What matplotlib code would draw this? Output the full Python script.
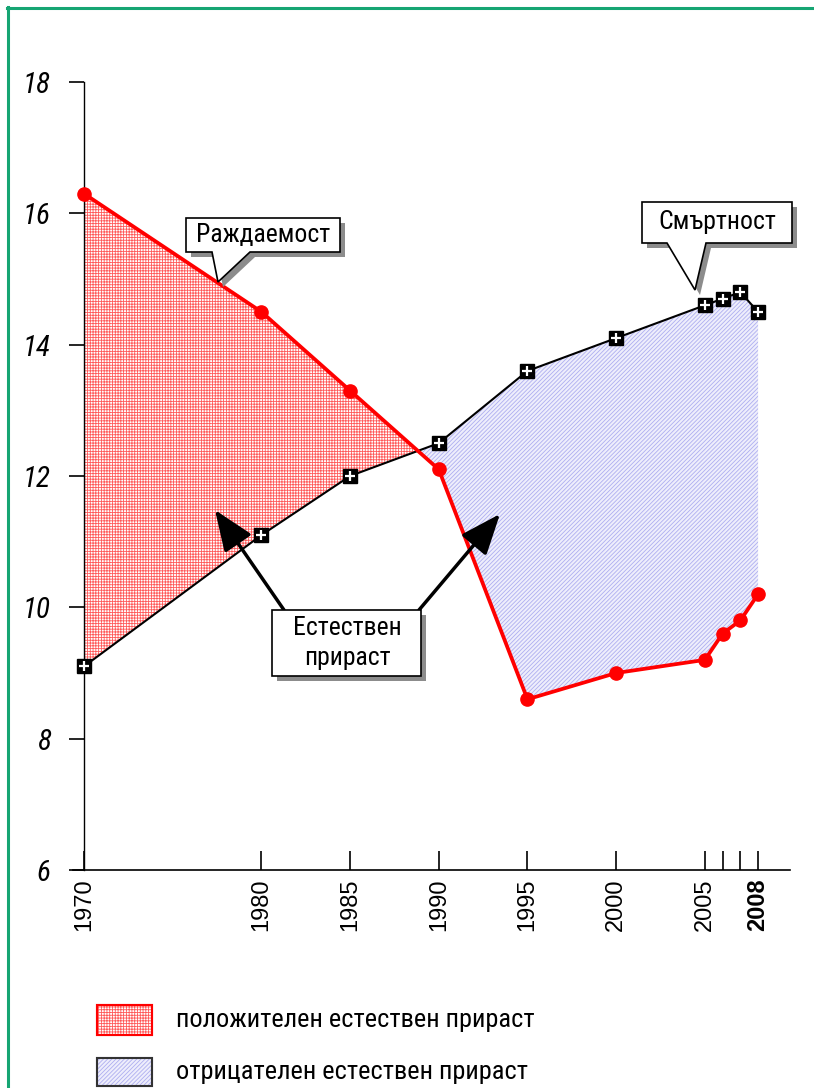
import matplotlib
matplotlib.use("Agg")
import matplotlib.pyplot as plt
from matplotlib import font_manager
from matplotlib.patches import Polygon, Rectangle
from matplotlib.lines import Line2D

# birth and death rate per 1000 people
years = [1970, 1980, 1985, 1990, 1995, 2000, 2005, 2006, 2007, 2008]
birth = [16.3, 14.5, 13.3, 12.1, 8.6, 9.0, 9.2, 9.6, 9.8, 10.2]
death = [9.1, 11.1, 12.0, 12.5, 13.6, 14.1, 14.6, 14.7, 14.8, 14.5]
tick_labels = ["1970", "1980", "1985", "1990", "1995", "2000", "2005", "", "", "2008"]
y_ticks = [6, 8, 10, 12, 14, 16, 18]

label_birth = "Раждаемост"
label_death = "Смъртност"
label_growth = "Естествен\nприраст"
legend_pos = "положителен естествен прираст"
legend_neg = "отрицателен естествен прираст"

names = {f.name for f in font_manager.fontManager.ttflist}
narrow = "DejaVu Sans"
for cand in ["Roboto Condensed", "Liberation Sans Narrow", "Open Sans Condensed"]:
    if cand in names:
        narrow = cand
        break
regular = "Liberation Sans" if "Liberation Sans" in names else "DejaVu Sans"

plt.rcParams["hatch.linewidth"] = 0.6

W, H = 814, 1088
fig = plt.figure(figsize=(W / 100, H / 100), dpi=100)


def fx(px):
    return px / W


def fy(py):
    return 1 - py / H


ax = fig.add_axes([fx(84), fy(870), fx(790) - fx(84), fy(82) - fy(870)])
ax.set_xlim(1970, 2009.8)
ax.set_ylim(6, 18)

ax.fill_between(years, birth, death, where=[b >= d for b, d in zip(birth, death)],
                interpolate=True, facecolor="white", edgecolor="#ff5a5a",
                hatch="++++++", linewidth=0, zorder=1)
ax.fill_between(years, birth, death, where=[b < d for b, d in zip(birth, death)],
                interpolate=True, facecolor="#eeeefc", edgecolor="#aeaef0",
                hatch="////////", linewidth=0, zorder=1)

ax.plot(years, death, color="black", lw=1.5, zorder=3)
ax.plot(years, birth, color="red", lw=2.7, zorder=4)
ax.plot(years, birth, "o", color="red", markersize=9.5, zorder=5, clip_on=False)
ax.plot(years, death, "s", color="black", markersize=10.5, zorder=6, clip_on=False)
ax.plot(years, death, "+", color="white", markersize=6.5, markeredgewidth=1.6,
        zorder=7, clip_on=False)

for s in ["top", "right"]:
    ax.spines[s].set_visible(False)
ax.spines["left"].set_linewidth(1.0)
ax.spines["bottom"].set_linewidth(1.2)
ax.spines["bottom"].set_bounds(1969.38, 2009.8)

ax.set_xticks(years)
ax.set_xticklabels(tick_labels, rotation=90, fontsize=17, family=regular)
ax.get_xticklabels()[-1].set_fontweight("bold")
ax.tick_params(axis="x", direction="in", length=14, width=1.2, pad=6)
ax.set_yticks(y_ticks)
ax.set_yticklabels([str(v) for v in y_ticks], fontsize=21, family=narrow, style="italic")
ax.tick_params(axis="y", direction="out", length=11, width=1.2, pad=13)


def callout(x0, y0, x1, y1, wl, wr, tip, text, size):
    pts = [(x0, y0), (x1, y0), (x1, y1), (wr, y1), tip, (wl, y1), (x0, y1)]
    shadow = Polygon([(fx(x + 5), fy(y + 5)) for x, y in pts], closed=True,
                     transform=fig.transFigure, facecolor="#8c8c8c", edgecolor="none", zorder=8)
    box = Polygon([(fx(x), fy(y)) for x, y in pts], closed=True,
                  transform=fig.transFigure, facecolor="white", edgecolor="black",
                  lw=1.2, zorder=9)
    fig.add_artist(shadow)
    fig.add_artist(box)
    fig.text(fx((x0 + x1) / 2), fy((y0 + y1) / 2), text, ha="center", va="center",
             fontsize=size, family=narrow, zorder=10)


callout(186, 218, 340, 252, 212, 250, (218, 282), label_birth, 18.5)
callout(642, 202, 792, 243, 667, 706, (695, 290), label_death, 18.5)

# natural growth box with two arrows
for sx, sy, tx, ty in [(284, 610, 215, 510), (419, 610, 500, 514)]:
    ax.annotate("", xy=(fx(tx), fy(ty)), xycoords="figure fraction",
                xytext=(fx(sx), fy(sy)), textcoords="figure fraction",
                arrowprops=dict(arrowstyle="-|>,head_length=1.25,head_width=0.5",
                                lw=2.5, color="black", mutation_scale=20,
                                shrinkA=0, shrinkB=0), zorder=8)
fig.add_artist(Rectangle((fx(277), fy(681)), fx(421) - fx(272), fy(610) - fy(676),
                         transform=fig.transFigure, facecolor="#8c8c8c", edgecolor="none", zorder=8))
fig.add_artist(Rectangle((fx(272), fy(676)), fx(421) - fx(272), fy(610) - fy(676),
                         transform=fig.transFigure, facecolor="white", edgecolor="black",
                         lw=1.2, zorder=9))
fig.text(fx(347), fy(643), label_growth, ha="center", va="center", fontsize=18.5,
         family=narrow, linespacing=1.3, zorder=10)

# legend
fig.add_artist(Rectangle((fx(97), fy(1035)), fx(152) - fx(97), fy(1005) - fy(1035),
                         transform=fig.transFigure, facecolor="white", edgecolor="#ff5a5a",
                         hatch="++++++", lw=1.5))
fig.add_artist(Rectangle((fx(97), fy(1035)), fx(152) - fx(97), fy(1005) - fy(1035),
                         transform=fig.transFigure, facecolor="none", edgecolor="red", lw=1.5))
fig.add_artist(Rectangle((fx(97), fy(1086)), fx(152) - fx(97), fy(1058) - fy(1086),
                         transform=fig.transFigure, facecolor="#eeeefc", edgecolor="#aeaef0",
                         hatch="////////", lw=1.5))
fig.add_artist(Rectangle((fx(97), fy(1086)), fx(152) - fx(97), fy(1058) - fy(1086),
                         transform=fig.transFigure, facecolor="none", edgecolor="#333333", lw=1.5))
fig.text(fx(176), fy(1020), legend_pos, ha="left", va="center", fontsize=19, family=narrow)
fig.text(fx(176), fy(1072), legend_neg, ha="left", va="center", fontsize=19, family=narrow)

# green frame
fig.add_artist(Line2D([fx(7), fx(814)], [fy(8), fy(8)], transform=fig.transFigure,
                      color="#16a573", lw=2.2))
fig.add_artist(Line2D([fx(8), fx(8)], [fy(7), fy(1088)], transform=fig.transFigure,
                      color="#16a573", lw=2.2))

fig.savefig("out.png", dpi=100)
